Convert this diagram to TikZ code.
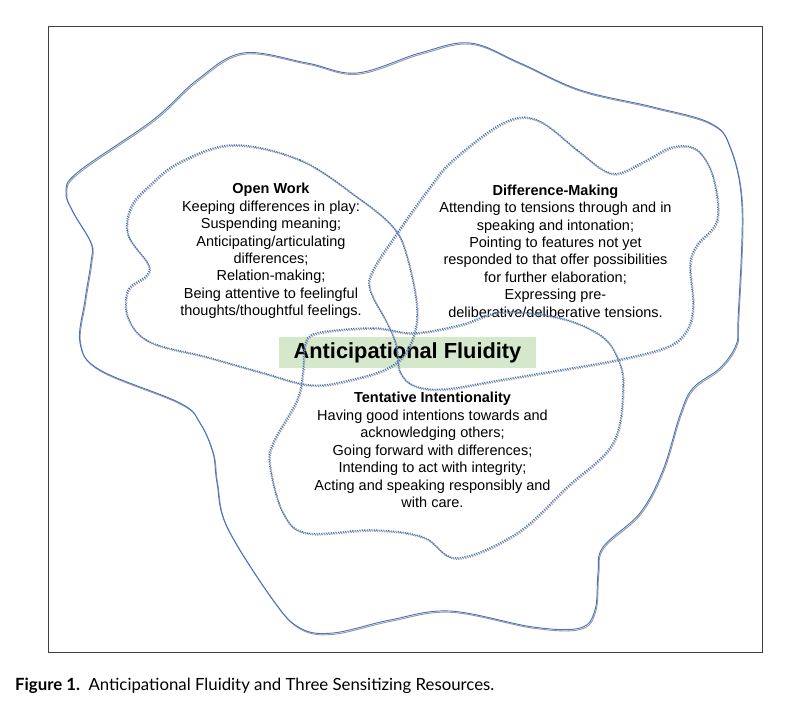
\documentclass[tikz,border=0pt]{standalone}
\usepackage{fontspec}
\setmainfont{Liberation Sans}
\newfontfamily\capfont{Lato}
\usepackage{tikz}
\usepackage{xcolor}
\usetikzlibrary{calc, positioning}

\definecolor{lineblue}{RGB}{68,114,196}
\definecolor{shadowgray}{RGB}{150,150,150}
\definecolor{fluidgreen}{RGB}{213,232,204}

\tikzset{
    outerline/.style={draw=lineblue, line width=0.9pt,
        preaction={draw=shadowgray, line width=0.9pt, transform canvas={shift={(0.8pt,-1.3pt)}}}},
    dotline/.style={draw=lineblue, line width=1.5pt, dash pattern=on 1.1pt off 1.3pt,
        preaction={draw=shadowgray, line width=1.5pt, dash pattern=on 1.1pt off 1.3pt, transform canvas={shift={(0.9pt,-1.1pt)}}}},
    resource/.style={align=center, inner sep=0pt, font=\fontsize{14.5}{17.45}\selectfont},
    fluidity/.style={fill=fluidgreen, minimum width=257pt, minimum height=31pt, inner sep=0pt, font=\fontsize{21.8}{24}\selectfont\bfseries}
}

\begin{document}
\begin{tikzpicture}[x=1pt, y=-1pt]
                    \useasboundingbox (0, 0) rectangle (810, 708);
                    \draw[black!75, line width=0.9pt] (48, 26) rectangle (762, 652);
                    \node[fluidity] (fluid) at (407.5, 352.5) {Anticipational Fluidity};
                    \node[resource] (openwork) at (271, 251) {\textbf{Open Work}\\Keeping differences in play:\\Suspending meaning;\\Anticipating/articulating\\differences;\\Relation-making;\\Being attentive to feelingful\\thoughts/thoughtful feelings.};
                    \node[resource] (diffmaking) at (555.5, 251) {\textbf{Difference-Making}\\Attending to tensions through and in\\speaking and intonation;\\Pointing to features not yet\\responded to that offer possibilities\\for further elaboration;\\Expressing pre-\\deliberative/deliberative tensions.};
                    \node[resource] (tentative) at (432.5, 450) {\textbf{Tentative Intentionality}\\Having good intentions towards and\\acknowledging others;\\Going forward with differences;\\Intending to act with integrity;\\Acting and speaking responsibly and\\with care.};
                    \node[anchor=west, inner sep=0pt, font=\capfont\fontsize{16.8}{19}\selectfont] (caption) at (15, 686) {\textbf{Figure 1.}\hspace{0.5em}Anticipational Fluidity and Three Sensitizing Resources.};
                    \draw[outerline] plot[smooth cycle, tension=0.6] coordinates {
                    (66, 192) (73, 212) (91, 243) (91, 262) (85, 300) (80, 343) (100, 370) (180, 403) (200, 423) (213, 453) (217, 483) (227, 527) (273, 600) (300, 628) (333, 633) (390, 620) (450, 611) (533, 627) (580, 628) (595, 610) (598, 573) (603, 547) (640, 513) (663, 470) (680, 415) (693, 388) (720, 368) (736, 345) (738, 320) (742, 207) (730, 147) (710, 123) (653, 107) (580, 90) (520, 63) (470, 43) (420, 53) (357, 73) (307, 63) (243, 53) (197, 80) (153, 120) (78, 172)};
                    \draw[dotline] plot[smooth cycle, tension=0.6] coordinates {
                    (233, 145) (300, 160) (357, 197) (393, 227) (407, 257) (417, 310) (410, 345) (390, 367) (350, 380) (310, 385) (260, 372) (207, 357) (150, 342) (128, 318) (128, 290) (146, 276) (148, 264) (128, 235) (131, 207) (150, 185) (180, 162)};
                    \draw[dotline] plot[smooth cycle, tension=0.6] coordinates {
                    (537, 120) (577, 150) (603, 170) (620, 173) (647, 160) (673, 147) (697, 150) (713, 177) (717, 220) (697, 245) (690, 265) (693, 305) (687, 330) (667, 347) (617, 360) (560, 370) (500, 380) (445, 389) (415, 386) (400, 372) (396, 345) (387, 323) (370, 290) (373, 270) (397, 233) (430, 187) (453, 160) (503, 123)};
                    \draw[dotline] plot[smooth cycle, tension=0.6] coordinates {
                    (317, 333) (373, 328) (413, 333) (460, 325) (503, 312) (560, 318) (600, 335) (617, 357) (623, 387) (613, 443) (567, 487) (517, 533) (457, 558) (423, 537) (373, 530) (307, 533) (283, 513) (270, 467) (273, 443) (297, 400) (303, 370) (305, 345)};
                \end{tikzpicture}
\end{document}
